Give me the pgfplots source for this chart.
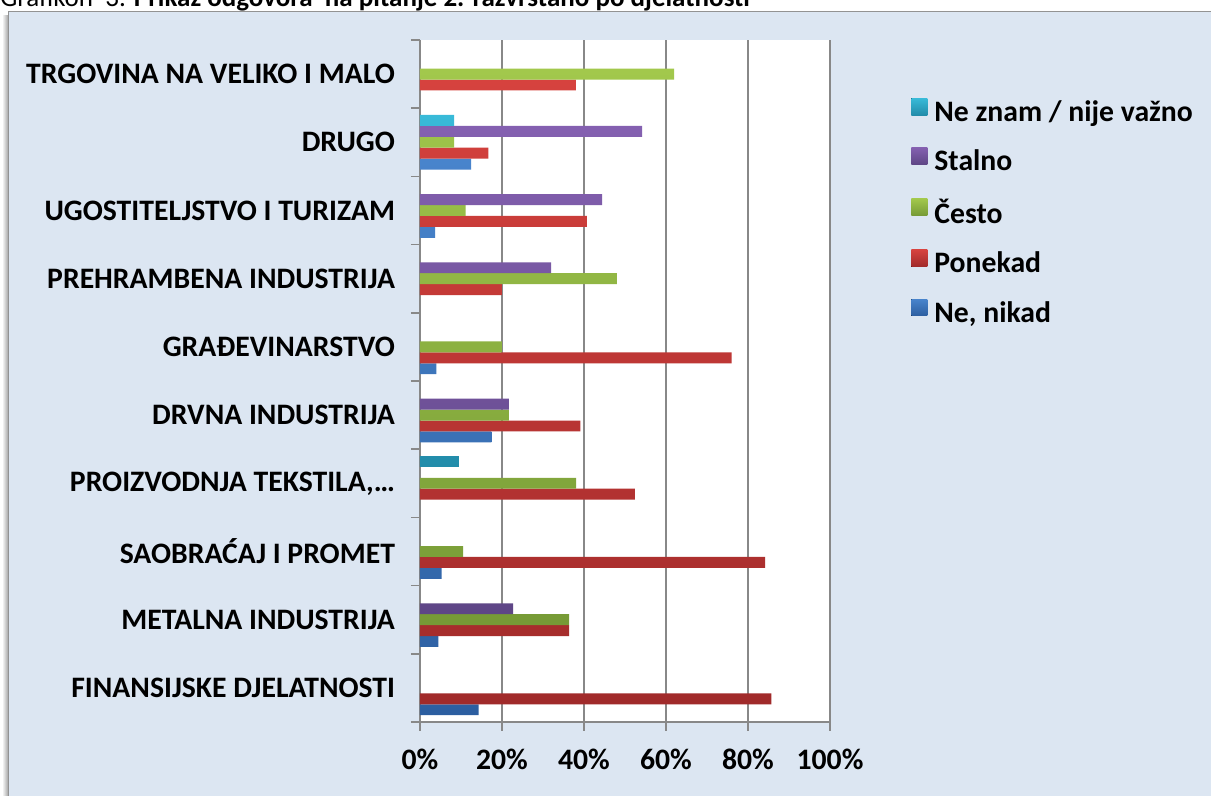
\documentclass[border=0pt]{standalone}
\usepackage{fontspec}
\setmainfont{Carlito}
\usepackage{pgfplots}
\pgfplotsset{compat=1.18}

\definecolor{panelbg}{RGB}{220,230,242}
\definecolor{gridgray}{RGB}{136,136,136}
\definecolor{blueT}{RGB}{72,132,204}
\definecolor{blueB}{RGB}{44,94,160}
\definecolor{redT}{RGB}{214,66,62}
\definecolor{redB}{RGB}{160,42,42}
\definecolor{greenT}{RGB}{162,200,76}
\definecolor{greenB}{RGB}{118,154,54}
\definecolor{purpT}{RGB}{132,96,176}
\definecolor{purpB}{RGB}{94,70,134}
\definecolor{cyanT}{RGB}{56,186,216}
\definecolor{cyanB}{RGB}{34,140,170}

\newcommand\lbl{\fontsize{14.85}{17}\selectfont\bfseries}

\begin{document}
\begin{tikzpicture}
\path[use as bounding box, clip] (0,0) rectangle (605.5pt,398pt);
\fill[white] (0,0) rectangle (605.5pt,398pt);
% panel with a soft shadow on the left
\shade[left color=white, right color=gray!75] (1pt,-5pt) rectangle (4.25pt,390pt);
\fill[panelbg] (4.25pt,-10pt) rectangle (620pt,392.25pt);
\draw[gray!85, line width=0.6pt] (4.25pt,-10pt) -- (4.25pt,392.25pt) -- (620pt,392.25pt);
% caption line, cut by the top edge
\node[anchor=base west, inner sep=0pt, font=\fontsize{13.5}{16}\selectfont]
  at (0pt,394.5pt) {Grafikon\ \ 3. \textbf{Prikaz odgovora\ \ na pitanje 2. razvrstano po djelatnosti}};

\begin{axis}[
    at={(210pt,37pt)}, anchor=south west,
    scale only axis, width=205pt, height=341pt,
    xbar, bar width=0.16,
    xmin=0, xmax=100, ymin=-0.5, ymax=9.5,
    axis x line*=bottom, axis y line*=left,
    axis line style={gridgray, line width=0.8pt},
    axis background/.style={fill=white},
    xtick={0,20,...,100},
    xticklabels={0\%,20\%,40\%,60\%,80\%,100\%},
    xmajorgrids, grid style={gridgray, line width=0.8pt},
    ytick={0,...,9},
    yticklabels={FINANSIJSKE DJELATNOSTI, METALNA INDUSTRIJA, SAOBRAĆAJ I PROMET,
      {PROIZVODNJA TEKSTILA,…}, DRVNA INDUSTRIJA, GRAĐEVINARSTVO,
      PREHRAMBENA INDUSTRIJA, UGOSTITELJSTVO I TURIZAM, DRUGO,
      TRGOVINA NA VELIKO I MALO},
    major tick length=0pt,
    minor xtick={0,20,...,100},
    minor ytick={-0.5,0.5,...,9.5},
    minor tick length=4.5pt, tick align=outside,
    minor tick style={gridgray, line width=0.8pt},
    ticklabel style={font=\lbl},
    xticklabel style={yshift=-10pt},
    yticklabel style={xshift=-9pt},
    reverse legend,
    legend cell align=left,
    legend image code/.code={\fill[#1] (0pt,-1.4pt) rectangle (8pt,7pt);},
    legend style={at={(1.1976,0.918)}, anchor=north west, draw=none, fill=none,
      font=\lbl, row sep=8.75pt, inner sep=0pt,
      /tikz/every odd column/.append style={column sep=1.5pt}},
]
% Ne, nikad
\addplot[draw=none, top color=blueT, bottom color=blueB, bar shift=-0.32]
  coordinates {(14.3,0) (4.5,1) (5.3,2) (17.4,4) (4,5) (3.7,7) (12.5,8)};
\addlegendentry{Ne, nikad}
% Ponekad
\addplot[draw=none, top color=redT, bottom color=redB, bar shift=-0.16]
  coordinates {(85.7,0) (36.4,1) (84.2,2) (52.4,3) (39.1,4) (76,5) (20,6) (40.7,7) (16.7,8) (38,9)};
\addlegendentry{Ponekad}
% Često
\addplot[draw=none, top color=greenT, bottom color=greenB, bar shift=0]
  coordinates {(36.4,1) (10.5,2) (38.1,3) (21.7,4) (20,5) (48,6) (11.1,7) (8.3,8) (62,9)};
\addlegendentry{Često}
% Stalno
\addplot[draw=none, top color=purpT, bottom color=purpB, bar shift=0.16]
  coordinates {(22.7,1) (21.7,4) (32,6) (44.4,7) (54.2,8)};
\addlegendentry{Stalno}
% Ne znam / nije važno
\addplot[draw=none, top color=cyanT, bottom color=cyanB, bar shift=0.32]
  coordinates {(9.5,3) (8.3,8)};
\addlegendentry{Ne znam / nije važno}
\end{axis}
\end{tikzpicture}
\end{document}
